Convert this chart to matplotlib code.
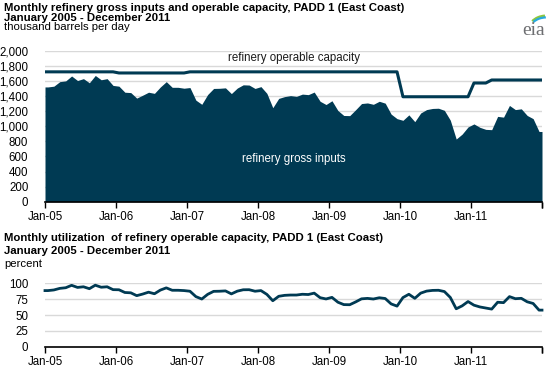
import numpy as np
import pandas as pd
import matplotlib
matplotlib.use("Agg")
import matplotlib.pyplot as plt
from matplotlib.patches import Arc

plt.rcParams['font.family'] = ['Liberation Sans', 'DejaVu Sans']

# Monthly values Jan 2005 - Dec 2011 (one row per year)
months = pd.date_range("2005-01-01", periods=84, freq="MS")

# refinery gross inputs, thousand barrels per day
gross_inputs = [
    1520, 1530, 1590, 1600, 1665, 1605, 1630, 1575, 1672, 1615, 1630, 1540,
    1530, 1450, 1445, 1372, 1410, 1450, 1435, 1520, 1590, 1515, 1515, 1503,
    1512, 1345, 1290, 1420, 1500, 1502, 1508, 1432, 1505, 1548, 1545, 1500,
    1524, 1435, 1245, 1368, 1392, 1405, 1395, 1425, 1418, 1452, 1330, 1287,
    1337, 1208, 1142, 1140, 1218, 1300, 1308, 1290, 1330, 1305, 1160, 1100,
    1078, 1150, 1060, 1175, 1220, 1235, 1238, 1210, 1080, 830, 895, 990,
    1030, 985, 958, 954, 1130, 1120, 1275, 1220, 1230, 1142, 1100, 930,
]

# refinery operable capacity, thousand barrels per day
operable_capacity = [
    1720, 1720, 1720, 1720, 1720, 1720, 1720, 1720, 1720, 1720, 1720, 1720,
    1705, 1705, 1705, 1705, 1705, 1705, 1705, 1705, 1705, 1705, 1705, 1705,
    1720, 1720, 1720, 1720, 1720, 1720, 1720, 1720, 1720, 1720, 1720, 1720,
    1720, 1720, 1720, 1720, 1720, 1720, 1720, 1720, 1720, 1720, 1720, 1720,
    1720, 1720, 1720, 1720, 1720, 1720, 1720, 1720, 1720, 1720, 1720, 1720,
    1390, 1390, 1390, 1390, 1390, 1390, 1390, 1390, 1390, 1390, 1390, 1390,
    1572, 1572, 1572, 1612, 1612, 1612, 1612, 1612, 1612, 1612, 1612, 1612,
]

# utilization of operable capacity, percent
utilization = [
    88.5, 89.5, 92.0, 93.0, 96.8, 93.5, 94.5, 91.5, 97.0, 93.8, 94.5, 90.0,
    89.8, 85.5, 85.0, 80.5, 83.0, 86.0, 83.5, 89.3, 92.8, 89.0, 89.0, 88.5,
    87.5, 79.0, 75.2, 82.6, 87.3, 87.5, 88.0, 83.3, 87.6, 89.8, 89.9, 87.5,
    88.5, 82.5, 72.5, 79.5, 81.0, 81.5, 81.5, 82.7, 82.3, 84.5, 77.3, 75.3,
    77.8, 70.2, 66.4, 66.2, 70.6, 75.5, 76.2, 75.2, 77.2, 76.0, 67.5, 64.0,
    77.5, 82.7, 76.3, 84.5, 87.7, 88.8, 89.0, 87.0, 77.7, 59.8, 64.4, 71.2,
    65.5, 62.7, 61.0, 59.3, 70.1, 69.5, 79.0, 75.7, 76.3, 70.8, 68.2, 57.7,
]

NAVY = "#003a53"
GRID = "#d9d9d9"
W, H = 549, 368

def fx(px):
    return px / W

def fy(py):
    return 1 - py / H

fig = plt.figure(figsize=(W / 100, H / 100), dpi=100)
ax1 = fig.add_axes([fx(45), fy(201.7), fx(497), 151 / H])
ax2 = fig.add_axes([fx(45), fy(346.7), fx(497), 63.4 / H])

# points sit in the middle of each month; series run to the axis edges
n = len(months)
x = np.arange(n) + 0.5
xe = np.r_[0, x, n]

def edge(v):
    return np.r_[v[0], v, v[-1]]

ax1.fill_between(xe, 0, edge(gross_inputs), color=NAVY, lw=0, zorder=2)
ax1.plot(xe, edge(operable_capacity), color=NAVY, lw=2.2, zorder=3)
ax2.plot(xe, edge(utilization), color=NAVY, lw=2.0, zorder=3, clip_on=False)

year_ticks = list(range(0, n + 1, 12))
tick_labels = [d.strftime("%b-%y") for d in months[::12]]

for ax in (ax1, ax2):
    ax.set_xlim(0, n)
    ax.set_xticks(year_ticks + [n])
    ax.set_xticklabels(tick_labels + [""] * (len(year_ticks) + 1 - len(tick_labels)))
    for s in ("left", "right", "top"):
        ax.spines[s].set_visible(False)
    ax.spines["bottom"].set_color("black")
    ax.spines["bottom"].set_linewidth(1.2)
    ax.spines["bottom"].set_zorder(5)
    ax.yaxis.grid(True, color=GRID, lw=1.0, zorder=0)
    ax.set_axisbelow(True)
    ax.tick_params(axis="x", length=4, width=1, direction="out", pad=3,
                   labelsize=8.3, colors="black")
    ax.tick_params(axis="y", length=0, pad=12, labelsize=8.3, colors="black")

ax1.set_ylim(0, 2000)
ax1.set_yticks(range(0, 2001, 200))
ax1.set_yticklabels([f"{v:,}" for v in range(0, 2001, 200)])

ax2.set_ylim(0, 100)
ax2.set_yticks(range(0, 101, 25))

ax1.text(42, 1900, "refinery operable capacity", ha="center", va="center",
         fontsize=8.3, color="#1a1a1a")
ax1.text(42, 565, "refinery gross inputs", ha="center", va="center",
         fontsize=8.3, color="white", zorder=4)

# titles
fig.text(fx(4), fy(10.8), "Monthly refinery gross inputs and operable capacity, PADD 1 (East Coast)",
         fontsize=8.2, fontweight="bold", va="baseline")
fig.text(fx(4), fy(20.8), "January 2005 - December 2011", fontsize=8.2,
         fontweight="bold", va="baseline")
fig.text(fx(4), fy(30.2), "thousand barrels per day", fontsize=8.2, va="baseline")

fig.text(fx(4), fy(241.3), "Monthly utilization  of refinery operable capacity, PADD 1 (East Coast)",
         fontsize=8.2, fontweight="bold", va="baseline")
fig.text(fx(4), fy(254.3), "January 2005 - December 2011", fontsize=8.2,
         fontweight="bold", va="baseline")
fig.text(fx(4), fy(267.3), "percent", fontsize=8.2, va="baseline")

# eia logo
logo = fig.add_axes([fx(516), fy(37), fx(32), 28 / H])
logo.set_xlim(0, 1)
logo.set_ylim(0, 1)
logo.axis("off")
logo.text(0.55, 0.08, "eia", fontsize=14, family="Liberation Serif",
          color="#6d6e71", ha="center", va="baseline")
logo.add_patch(Arc((0.95, 0.25), 1.1, 1.0, theta1=95, theta2=145, color="#8dc63f", lw=2.2))
logo.add_patch(Arc((0.95, 0.20), 1.1, 1.0, theta1=92, theta2=140, color="#27a9e1", lw=1.6))

fig.savefig("out.png", dpi=100)
